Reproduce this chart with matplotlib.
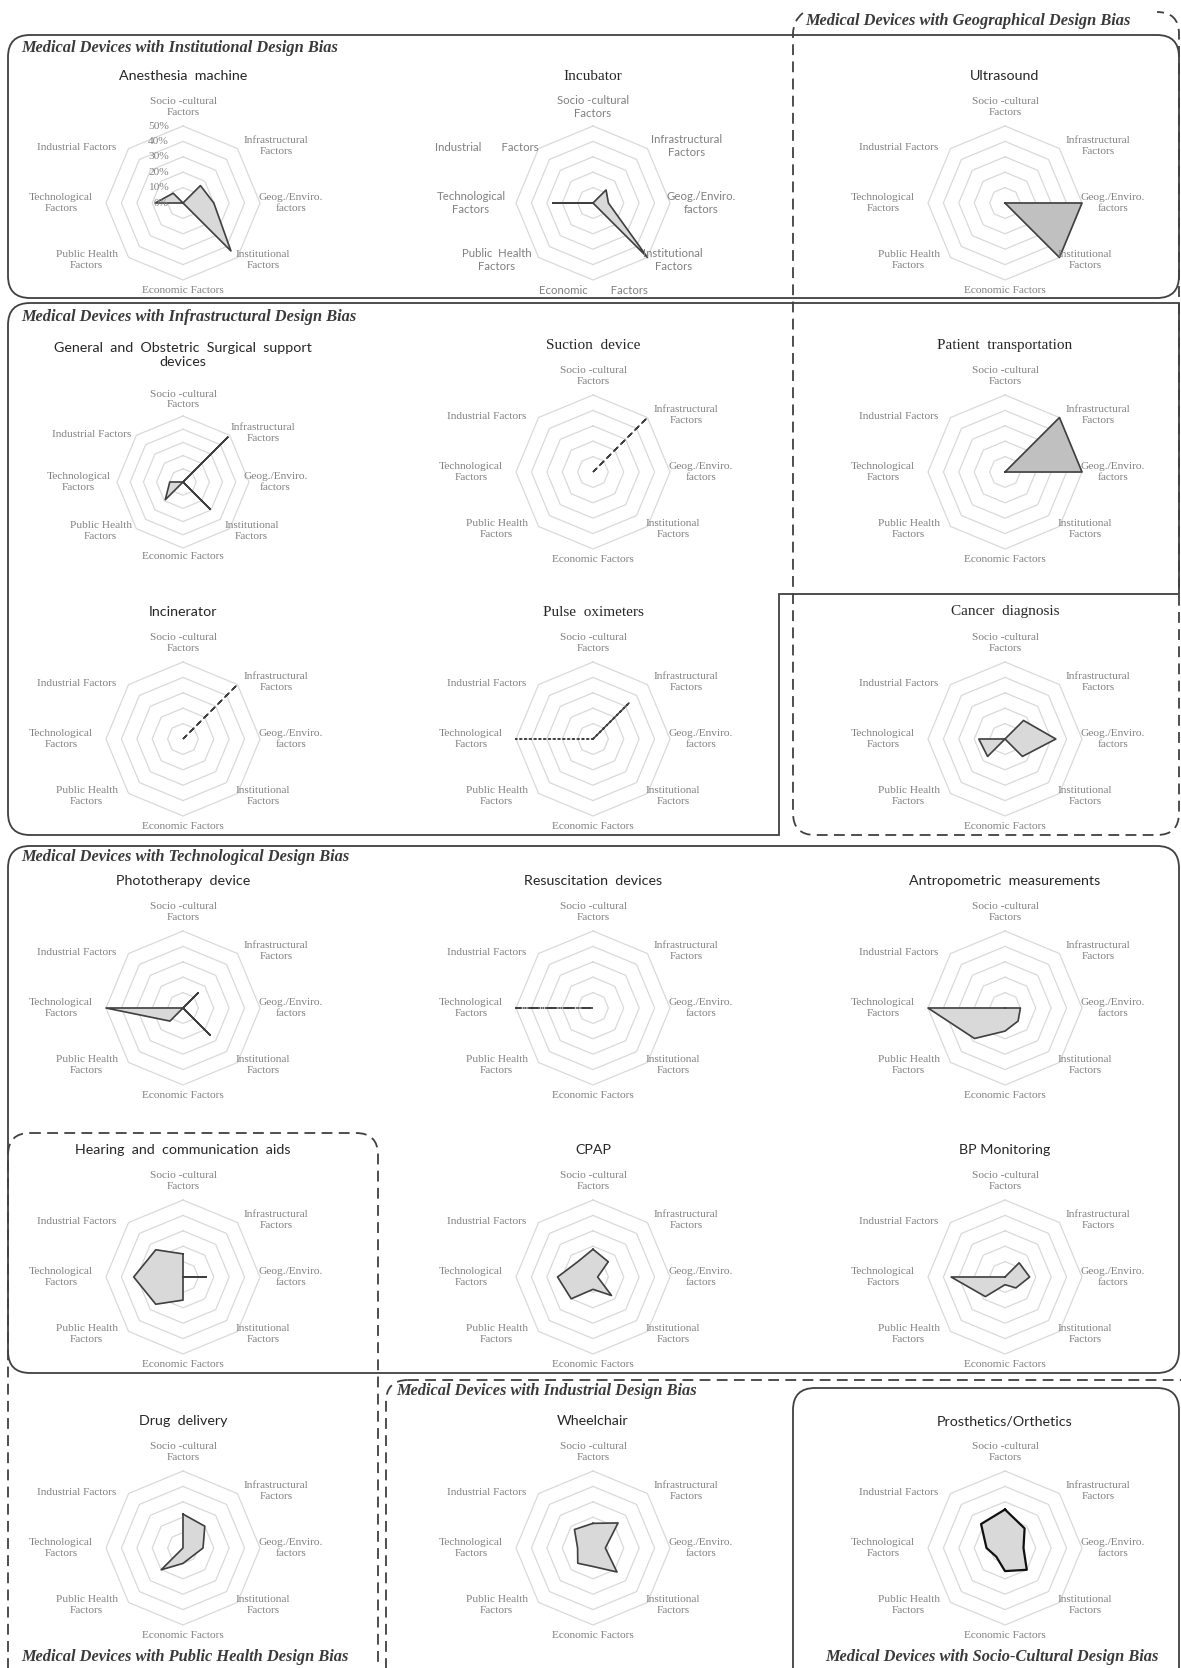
import numpy as np
import matplotlib.pyplot as plt
from matplotlib.patches import FancyBboxPatch, PathPatch
from matplotlib.path import Path

W, H = 1181, 1668

factors = ["Socio -cultural\nFactors", "Infrastructural\nFactors", "Geog./Enviro.\nfactors",
           "Institutional\nFactors", "Economic Factors", "Public Health\nFactors",
           "Technological\nFactors", "Industrial Factors"]
# incubator chart uses wider spacing in a few labels
factors_incubator = ["Socio -cultural\nFactors", "Infrastructural\nFactors", "Geog./Enviro.\nfactors",
                     "Institutional\nFactors", "Economic        Factors", "Public  Health\nFactors",
                     "Technological\nFactors", "Industrial       Factors"]
pct_ticks = [0, 10, 20, 30, 40, 50]

# values in %: socio, infra, geo, inst, econ, public health, tech, industrial
anesthesia = [0, 16, 20, 44, 0, 0, 18, 9]
incubator = [0, 12, 10, 50, 0, 0, 26, 0]
ultrasound = [0, 0, 50, 50, 0, 0, 0, 0]
general_surgical = [0, 48, 0, 29, 0, 19, 10, 0]
suction = [0, 50, 0, 0, 0, 0, 0, 0]
patient_transport = [0, 50, 50, 0, 0, 0, 0, 0]
incinerator = [0, 50, 0, 0, 0, 0, 0, 0]
pulse_oximeters = [0, 33, 0, 0, 0, 0, 50, 0]
cancer_diagnosis = [0, 17, 33, 16, 0, 16, 17, 0]
phototherapy = [0, 14, 0, 25, 0, 12, 50, 0]
resuscitation = [0, 0, 0, 0, 0, 0, 50, 0]
anthropometric = [0, 0, 10, 12, 15, 28, 50, 0]
hearing_aids = [15, 0, 15, 0, 15, 25, 32, 25]
cpap = [18, 14, 3, 17, 8, 20, 23, 14]
bp_monitoring = [0, 13, 16, 10, 5, 18, 35, 0]
drug_delivery = [22, 20, 13, 8, 10, 20, 0, 0]
wheelchair = [16, 23, 8, 22, 12, 14, 10, 17]
prosthetics = [25, 18, 12, 20, 15, 8, 12, 22]

titles = ["Anesthesia  machine", "Incubator", "Ultrasound",
          "General  and  Obstetric  Surgical  support\ndevices", "Suction  device", "Patient  transportation",
          "Incinerator", "Pulse  oximeters", "Cancer  diagnosis",
          "Phototherapy  device", "Resuscitation  devices", "Antropometric  measurements",
          "Hearing  and  communication  aids", "CPAP", "BP Monitoring",
          "Drug  delivery", "Wheelchair", "Prosthetics/Orthetics"]
series = [anesthesia, incubator, ultrasound,
          general_surgical, suction, patient_transport,
          incinerator, pulse_oximeters, cancer_diagnosis,
          phototherapy, resuscitation, anthropometric,
          hearing_aids, cpap, bp_monitoring,
          drug_delivery, wheelchair, prosthetics]

groups = [("Medical Devices with Institutional Design Bias", 21, 48, "left"),
          ("Medical Devices with Infrastructural Design Bias", 21, 317, "left"),
          ("Medical Devices with Technological Design Bias", 21, 857, "left"),
          ("Medical Devices with Industrial Design Bias", 396, 1391, "left"),
          ("Medical Devices with Public Health Design Bias", 21, 1657, "left"),
          ("Medical Devices with Socio-Cultural Design Bias", 992, 1657, "center")]

SERIF = ["Liberation Serif", "DejaVu Serif"]
SANS = ["Lato", "DejaVu Sans"]
GRID = "#d9d9d9"
LBL = "#808080"
LINE = "#404040"

col_x = [183, 593, 1005]
row_y = [203, 472, 739, 1008, 1277, 1548]
serif_titles = {1, 4, 5, 7, 8}
sans_labels = {1}

fig = plt.figure(figsize=(W / 100, H / 100), dpi=100)
bg = fig.add_axes([0, 0, 1, 1])
bg.set_xlim(0, W)
bg.set_ylim(H, 0)
bg.axis("off")


def box(x0, y0, x1, y1, ls="-", r=22):
    p = FancyBboxPatch((x0, y0), x1 - x0, y1 - y0, boxstyle=f"round,pad=0,rounding_size={r}",
                       fc="none", ec=LINE, lw=1.3, ls=ls)
    bg.add_patch(p)


dash = (0, (6, 3.5))
box(8, 35, 1179, 298)
box(8, 846, 1179, 1373)
box(8, 1133, 378, 1740, ls=dash)
box(386, 1380, 1240, 1740, ls=dash)
box(793, 1388, 1179, 1740)

# geographical group: dashed outline, top edge hidden behind its label
r = 22
gx0, gy0, gx1, gy1 = 793, 12, 1179, 835
verts = [(gx0 + r * 0.45, gy0 + 1), (gx0, gy0 + r * 0.4), (gx0, gy0 + r), (gx0, gy1 - r),
         (gx0, gy1), (gx0 + r, gy1), (gx1 - r, gy1), (gx1, gy1), (gx1, gy1 - r),
         (gx1, gy0 + r), (gx1, gy0), (gx1 - r, gy0)]
codes = [Path.MOVETO, Path.CURVE3, Path.CURVE3, Path.LINETO,
         Path.CURVE3, Path.CURVE3, Path.LINETO, Path.CURVE3, Path.CURVE3,
         Path.LINETO, Path.CURVE3, Path.CURVE3]
bg.add_patch(PathPatch(Path(verts, codes), fc="none", ec=LINE, lw=1.3, ls=dash))

# infrastructural group: L-shaped outline
verts = [(8 + r, 303), (1179, 303), (1179, 594), (779, 594), (779, 835), (8 + r, 835),
         (8, 835), (8, 835 - r), (8, 303 + r), (8, 303), (8 + r, 303), (8 + r, 303)]
codes = [Path.MOVETO, Path.LINETO, Path.LINETO, Path.LINETO, Path.LINETO, Path.LINETO,
         Path.CURVE3, Path.CURVE3, Path.LINETO, Path.CURVE3, Path.CURVE3, Path.CLOSEPOLY]
bg.add_patch(PathPatch(Path(verts, codes), fc="none", ec=LINE, lw=1.3))

for txt, tx, ty, ha in groups:
    bg.text(tx, ty, txt, ha=ha, va="center", family=SERIF, fontsize=11.8,
            fontweight="bold", style="italic", color="#3a3a3a")
bg.text(805, 21, "Medical Devices with Geographical Design Bias", ha="left", va="center",
        family=SERIF, fontsize=11.8, fontweight="bold", style="italic", color="#3a3a3a")

angles = np.linspace(0, 2 * np.pi, len(factors), endpoint=False)
closed = np.append(angles, angles[0])
# label anchor offsets in units of the outer radius (x right, y down)
lab_off = [(0, -1.25), (1.21, -0.74), (1.40, 0), (1.04, 0.74), (0, 1.13),
           (-1.25, 0.74), (-1.585, 0), (-1.377, -0.727)]

for i, (title, vals) in enumerate(zip(titles, series)):
    cx = col_x[i % 3]
    cy = row_y[i // 3]
    R = 77
    if i == 3:
        R, cy = 66, 482
    ax = fig.add_axes([(cx - R) / W, 1 - (cy + R) / H, 2 * R / W, 2 * R / H], projection="polar")
    ax.set_theta_offset(np.pi / 2)
    ax.set_theta_direction(-1)
    ax.set_ylim(0, 50)
    ax.axis("off")
    for t in pct_ticks[1:]:
        ax.plot(closed, [t] * len(closed), color=GRID, lw=0.9, clip_on=False, zorder=1)

    v = np.append(vals, vals[0])
    if title.startswith(("Suction", "Incinerator")):
        ax.plot(closed, v, color=LINE, lw=1.1, ls=(0, (4, 2.5)), clip_on=False, zorder=3)
    elif title.startswith("Pulse"):
        ax.plot(closed, v, color=LINE, lw=1.3, ls=":", clip_on=False, zorder=3)
        k = 1
        ax.plot([angles[k], angles[k]], [0, vals[k]], color=LINE, lw=1.1, clip_on=False, zorder=4)
    elif title.startswith("Resuscitation"):
        ax.plot(closed, v, color=LINE, lw=1.2, ls="-.", clip_on=False, zorder=3)
    else:
        fc = "#c0c0c0" if title.startswith(("Ultrasound", "Patient")) else "#d9d9d9"
        ax.fill(closed, v, color=fc, zorder=2, clip_on=False)
        lw = 1.6 if title.startswith("Prosthetics") else 1.2
        ec = "#111111" if title.startswith("Prosthetics") else LINE
        ax.plot(closed, v, color=ec, lw=lw, clip_on=False, zorder=3)

    fam = SANS if i in sans_labels else SERIF
    labels = factors_incubator if i == 1 else factors
    for lab, (dx, dy) in zip(labels, lab_off):
        ax.text(0.5 + dx / 2, 0.5 - dy / 2, lab, transform=ax.transAxes, ha="center", va="center",
                multialignment="center", family=fam, fontsize=8.2, color=LBL, linespacing=1.25)

    if i == 0:
        for t in pct_ticks:
            ax.text(0.5 - 14 / (2 * R), 0.5 + t / 100, f"{t}%", transform=ax.transAxes,
                    ha="right", va="center", family=SERIF, fontsize=8.2, color=LBL)

    if i in serif_titles:
        bg.text(cx, cy - 127, title, ha="center", va="center", family=SERIF, fontsize=11,
                color="#262626", linespacing=1.2)
    else:
        bg.text(cx, cy - 127, title, ha="center", va="center", family=SANS, fontsize=10.3,
                color="#262626", linespacing=1.25)

fig.savefig("out.png", dpi=100)
